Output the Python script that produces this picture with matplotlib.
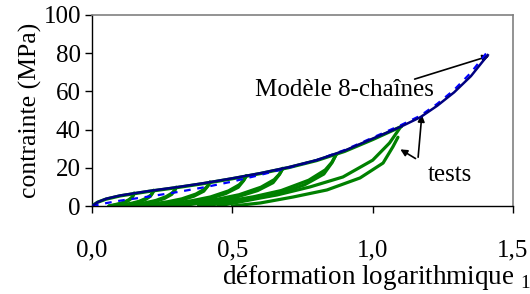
import numpy as np
import matplotlib
matplotlib.use("Agg")
import matplotlib.pyplot as plt

plt.rcParams['font.family'] = ['Liberation Serif', 'DejaVu Serif']
plt.rcParams['mathtext.fontset'] = 'custom'
plt.rcParams['mathtext.rm'] = 'Liberation Serif'

# model curve (8-chain)
model_x = [0, 0.02, 0.05, 0.1, 0.2, 0.3, 0.4, 0.5, 0.6, 0.7, 0.8, 0.9, 1.0, 1.1, 1.17, 1.23, 1.29, 1.35, 1.41]
model_y = [0, 2.0, 3.8, 5.5, 7.8, 9.8, 12.0, 14.5, 17.2, 20.3, 24.0, 29.0, 35.3, 41.5, 46.5, 52.5, 59.5, 68.0, 79.0]
model2_x = [0, 0.05, 0.1, 0.2, 0.3, 0.4, 0.5, 0.6, 0.7, 0.8, 0.9, 1.0, 1.1, 1.17, 1.23, 1.29, 1.35, 1.41]
model2_y = [0, 1.5, 2.8, 4.9, 7.2, 9.8, 12.8, 16.3, 20.0, 24.0, 29.3, 35.8, 42.3, 47.3, 53.5, 60.8, 69.8, 81.0]

# test envelope (loading)
env_x = [0, 0.02, 0.05, 0.1, 0.2, 0.3, 0.4, 0.5, 0.6, 0.7, 0.8, 0.9, 1.0, 1.1]
env_y = [0, 2.0, 3.6, 5.3, 7.6, 9.6, 11.8, 14.3, 17.0, 20.1, 23.8, 28.6, 34.8, 41.5]

# unloading branches of the cycles
unload = [
    ([0.06, 0.075, 0.093, 0.111, 0.129, 0.142, 0.147, 0.15], [0, 0.30, 0.87, 1.54, 2.75, 4.15, 5.63, 6.7]),
    ([0.09, 0.112, 0.138, 0.164, 0.19, 0.208, 0.216, 0.22], [0, 0.37, 1.07, 1.89, 3.36, 5.08, 6.89, 8.2]),
    ([0.12, 0.151, 0.187, 0.223, 0.259, 0.284, 0.295, 0.30], [0, 0.44, 1.27, 2.25, 4.02, 6.08, 8.23, 9.8]),
    ([0.17, 0.213, 0.263, 0.313, 0.363, 0.398, 0.413, 0.42], [0, 0.56, 1.63, 2.88, 5.13, 7.75, 10.5, 12.5]),
    ([0.23, 0.284, 0.348, 0.412, 0.476, 0.521, 0.540, 0.55], [0, 0.71, 2.05, 3.63, 6.48, 9.8, 13.27, 15.8]),
    ([0.29, 0.356, 0.434, 0.512, 0.59, 0.645, 0.668, 0.68], [0, 0.89, 2.56, 4.53, 8.08, 12.21, 16.55, 19.7]),
    ([0.38, 0.463, 0.561, 0.659, 0.757, 0.826, 0.855, 0.87], [0, 1.22, 3.51, 6.21, 11.07, 16.74, 22.68, 27.0]),
    ([0.50, 0.60, 0.716, 0.837, 0.955, 1.037, 1.072, 1.09], [0, 1.6, 4.7, 8.4, 14.7, 22.5, 31.0, 36.0]),
]
# reloading branches of the cycles
reload = [
    ([0.06, 0.078, 0.096, 0.114, 0.132, 0.143, 0.147, 0.15], [0, 0.60, 1.21, 2.01, 3.35, 4.69, 5.70, 6.7]),
    ([0.09, 0.116, 0.142, 0.168, 0.194, 0.21, 0.216, 0.22], [0, 0.74, 1.48, 2.46, 4.1, 5.74, 6.97, 8.2]),
    ([0.12, 0.156, 0.192, 0.228, 0.264, 0.286, 0.295, 0.30], [0, 0.88, 1.76, 2.94, 4.9, 6.86, 8.33, 9.8]),
    ([0.17, 0.22, 0.27, 0.32, 0.37, 0.40, 0.413, 0.42], [0, 1.13, 2.25, 3.75, 6.25, 8.75, 10.63, 12.5]),
    ([0.23, 0.294, 0.358, 0.422, 0.486, 0.524, 0.540, 0.55], [0, 1.42, 2.84, 4.74, 7.9, 11.06, 13.43, 15.8]),
    ([0.29, 0.368, 0.446, 0.524, 0.602, 0.649, 0.668, 0.68], [0, 1.77, 3.55, 5.91, 9.85, 13.79, 16.75, 19.7]),
    ([0.38, 0.478, 0.576, 0.674, 0.772, 0.831, 0.855, 0.87], [0, 2.43, 4.86, 8.1, 13.5, 18.9, 22.95, 27.0]),
    ([0.45, 0.60, 0.66, 0.777, 0.894, 1.0, 1.06, 1.1], [0, 4.2, 5.8, 10.0, 15.2, 24.0, 33.0, 41.5]),
]

xticks = [0, 0.5, 1.0, 1.5]
xlabels = ['0,0', '0,5', '1,0', '1,5']
yticks = [0, 20, 40, 60, 80, 100]

fig = plt.figure(figsize=(5.3, 2.94), dpi=100)
ax = fig.add_axes([0.1736, 0.2993, 0.7944, 0.6497])

green = '#008000'
for xs, ys in unload + reload:
    ax.plot(xs, ys, color=green, lw=2.3, solid_capstyle='round', solid_joinstyle='round', zorder=2)
ax.plot(env_x, env_y, color=green, lw=2.4, solid_joinstyle='round', zorder=3)
ax.plot(model_x, model_y, color='#000080', lw=1.8, solid_joinstyle='round', zorder=4)
ax.plot(model2_x, model2_y, color='#0000ff', lw=1.6, ls=(0, (3, 3)), zorder=3.5)

ax.set_xlim(0, 1.5)
ax.set_ylim(0, 100)
ax.set_xticks(xticks)
ax.set_xticklabels(xlabels)
ax.set_yticks(yticks)
ax.tick_params(axis='both', direction='out', length=5, width=1, labelsize=18, colors='black')
ax.tick_params(axis='x', pad=19)
ax.tick_params(axis='y', pad=3)
for s in ['top', 'right']:
    ax.spines[s].set_color('#808080')
    ax.spines[s].set_linewidth(1.2)
for s in ['left', 'bottom']:
    ax.spines[s].set_color('black')
    ax.spines[s].set_linewidth(1.0)

ax.text(0.581, 60.7, 'Modèle 8-chaînes', fontsize=18, va='center', ha='left')
ax.annotate('', xy=(1.425, 79), xytext=(1.14, 66),
            arrowprops=dict(arrowstyle='-|>', color='black', lw=1.2, mutation_scale=10))
ax.text(1.197, 16.2, 'tests', fontsize=18, va='center', ha='left')
for tx, ty in [(1.176, 49.2), (1.090, 30.4)]:
    ax.annotate('', xy=(tx, ty), xytext=(1.161, 24.1),
                arrowprops=dict(arrowstyle='-|>', color='black', lw=1.2, mutation_scale=10))

fig.text(222 / 530, 1 - 277 / 294, r'déformation logarithmique $_{\mathregular{1}}$',
         fontsize=19.5, ha='left', va='center')
fig.text(30 / 530, 1 - 110 / 294, 'contrainte (MPa)', fontsize=18.5, rotation=90,
         ha='center', va='center')

fig.savefig('out.png', dpi=100)
